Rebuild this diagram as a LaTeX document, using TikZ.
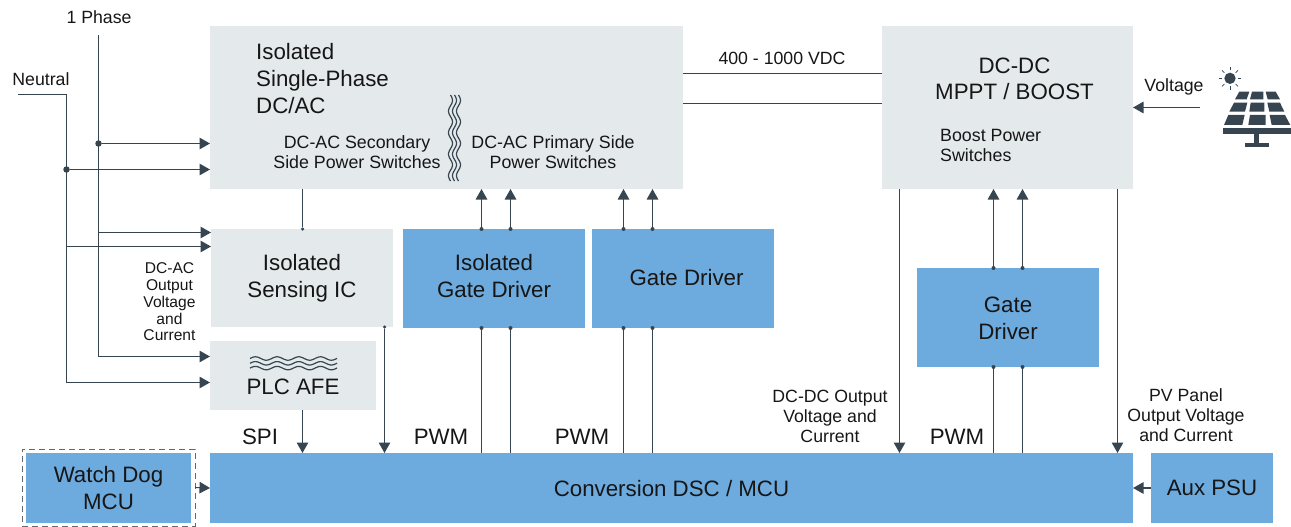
\documentclass[tikz,border=0pt]{standalone}
\usepackage{fontspec}
\setmainfont{Liberation Sans}
\usetikzlibrary{arrows.meta}
\definecolor{graybox}{HTML}{E4E9EC}
\definecolor{bluebox}{HTML}{6DAADD}
\definecolor{wire}{HTML}{36454F}
\definecolor{ink}{HTML}{161616}
\newcommand{\fsz}[2]{\fontsize{#1}{#2}\selectfont}
\tikzset{
  x=1pt,y=-1pt,
  box/.style={inner sep=0pt,outer sep=0pt,anchor=north west,align=center,text=ink},
  gbox/.style={box,fill=graybox},
  bbox/.style={box,fill=bluebox},
  big/.style={font=\fsz{22.3}{27}},
  mid/.style={font=\fsz{17.8}{20}},
  small/.style={font=\fsz{15.6}{16.7}},
  lab/.style={font=\fsz{17.7}{20}},
  lbl/.style={inner sep=0pt,align=center,text=ink},
  wireline/.style={draw=wire,line width=1.1pt},
  arr/.style={wireline,-{Triangle[length=10.5pt,width=11.5pt]}},
  dot/.style={circle,fill=wire,inner sep=0pt,minimum size=#1},
  dot/.default=6.5pt,
}
\begin{document}
\begin{tikzpicture}
\useasboundingbox (0,0) rectangle (1291,527);
% boxes
\node[gbox,minimum width=473pt,minimum height=163pt] (dcac) at (210,26) {};
\node[gbox,big,minimum width=182pt,minimum height=98pt] (sense) at (211,229) {Isolated\\Sensing IC};
\node[gbox,minimum width=166pt,minimum height=69pt] (plc) at (210,341) {};
\node[bbox,minimum width=182pt,minimum height=99pt] (igd) at (403,229) {};
\node[bbox,minimum width=182pt,minimum height=99pt] (gd) at (592,229) {};
\node[gbox,minimum width=251pt,minimum height=163pt] (dcdc) at (882,26) {};
\node[bbox,minimum width=182pt,minimum height=99pt] (gd2) at (917,268) {};
\node[bbox,minimum width=923pt,minimum height=70pt] (dsc) at (210,453) {};
\node[bbox,big,minimum width=122pt,minimum height=70pt] (aux) at (1151,453) {Aux PSU};
\node[bbox,big,minimum width=165pt,minimum height=70pt] (wd) at (26,453) {Watch Dog\\MCU};
\node[box,draw=wire!80!white,line width=0.8pt,dash pattern=on 6pt off 4pt,minimum width=173pt,minimum height=77pt] (wdf) at (22,449) {};
% texts in boxes
\node[lbl,big,anchor=north west,align=left] (t1) at (256,43) {Isolated\\Single-Phase\\DC/AC};
\node[lbl,mid] (t2) at (357,152) {DC-AC Secondary\\Side Power Switches};
\node[lbl,mid] (t3) at (553,152) {DC-AC Primary Side\\Power Switches};
\node[lbl,font=\fsz{22.3}{26}] (t4) at (1014.5,79) {DC-DC\\MPPT / BOOST};
\node[lbl,mid,anchor=north west,align=left] (t5) at (940,129) {Boost Power\\Switches};
\node[lbl,big] (t6) at (293,387) {PLC AFE};
\node[lbl,big] (t7) at (494,276) {Isolated\\Gate Driver};
\node[lbl,big] (t8) at (686.5,278) {Gate Driver};
\node[lbl,big] (t9) at (1008,318.5) {Gate\\Driver};
\node[lbl,big] (t10) at (671.5,489) {Conversion DSC / MCU};
% outer labels
\node[lbl,lab] (l1) at (99,17) {1 Phase};
\node[lbl,lab] (l2) at (41,79) {Neutral};
\node[lbl,small] (l3) at (169.5,302) {DC-AC\\Output\\Voltage\\and\\Current};
\node[lbl,lab] (l4) at (782,58) {400 - 1000 VDC};
\node[lbl,lab] (l5) at (1174,87) {Voltage};
\node[lbl,lab] (l6) at (830,416.5) {DC-DC Output\\Voltage and\\Current};
\node[lbl,lab] (l7) at (1186,415) {PV Panel\\Output Voltage\\and Current};
\node[lbl,big] (s1) at (260,437) {SPI};
\node[lbl,big] (s2) at (441,437) {PWM};
\node[lbl,big] (s3) at (582,437) {PWM};
\node[lbl,big] (s4) at (957,437) {PWM};
% helper coordinates
\coordinate (ph0) at (98.5,35);
\coordinate (ne0) at (18,94.5);
\coordinate (ne1) at (66.5,94.5);
\coordinate (v0) at (1200,107.5);
\coordinate (y1) at (0,143.5);
\coordinate (y2) at (0,169.5);
\coordinate (y3) at (0,232.5);
\coordinate (y4) at (0,246.5);
\coordinate (y5) at (0,356.5);
\coordinate (y6) at (0,382.5);
\coordinate (y7) at (0,73.5);
\coordinate (y8) at (0,103.5);
\coordinate (x1) at (302.5,0);
\coordinate (x2) at (384.5,0);
\foreach \n/\v in {a/481.5,b/510.5,c/623.5,d/652.5,e/993.5,f/1022.5,g/899.5,h/1117.5}{\coordinate (x\n) at (\v,0);}
% phase and neutral
\draw[wireline] (ph0) -- (ph0 |- y5);
\draw[wireline] (ne0) -- (ne1) -- (ne1 |- y6);
\node[dot] (d1) at (ph0 |- y1) {};
\node[dot] (d2) at (ne1 |- y2) {};
\draw[arr] (d1) -- (dcac.west |- y1);
\draw[arr] (d2) -- (dcac.west |- y2);
\draw[arr] (ph0 |- y3) -- (sense.west |- y3);
\draw[arr] (ne1 |- y4) -- (sense.west |- y4);
\draw[arr] (ph0 |- y5) -- (plc.west |- y5);
\draw[arr] (ne1 |- y6) -- (plc.west |- y6);
% vertical links
\node[dot=3.5pt] (d3) at (sense.north -| x1) {};
\draw[wireline] (dcac.south -| x1) -- (d3);
\node[dot=3.5pt] (d4) at (sense.south -| x2) {};
\draw[arr] (d4) -- (dsc.north -| x2);
\draw[arr] (plc.south -| x1) -- (dsc.north -| x1);
\draw[arr] (wdf.east) -- (dsc.west);
\draw[arr] (aux.west) -- (dsc.east);
% gate drivers up to DC/AC
\foreach \c/\b in {xa/igd,xb/igd,xc/gd,xd/gd}{
  \node[dot=4pt] (u\c) at (\b.north -| \c) {};
  \draw[arr] (u\c) -- (dcac.south -| \c);
  \node[dot=4pt] (l\c) at (\b.south -| \c) {};
  \draw[wireline] (l\c) -- (dsc.north -| \c);
}
\foreach \c in {xe,xf}{
  \node[dot=4pt] (u\c) at (gd2.north -| \c) {};
  \draw[arr] (u\c) -- (dcdc.south -| \c);
  \node[dot=4pt] (l\c) at (gd2.south -| \c) {};
  \draw[wireline] (l\c) -- (dsc.north -| \c);
}
\draw[arr] (dcdc.south -| xg) -- (dsc.north -| xg);
\draw[arr] (dcdc.south -| xh) -- (dsc.north -| xh);
% DC bus
\draw[wireline] (dcac.east |- y7) -- (dcdc.west |- y7);
\draw[wireline] (dcac.east |- y8) -- (dcdc.west |- y8);
\draw[arr] (v0) -- (dcdc.east |- v0);
% waves
\foreach \dx in {0,4,8}{
  \draw[wire,line width=1.2pt] plot[domain=0:86,samples=90] ({450.5+\dx+2*sin(\x/21.5*360)},{95+\x});
}
\foreach \dy in {0,4.8,9.6}{
  \draw[wire,line width=1.2pt] plot[domain=0:87,samples=90] ({250+\x},{358.5+\dy+1.7*sin(\x/21.7*360+180)});
}
% solar panel
\begin{scope}[shift={(1100,40)},x=0.3333pt,y=-0.3333pt]
 \fill[wire] (405,178)--(418,155)--(448,155)--(440,178)--cycle;
 \fill[wire] (450,178)--(456,155)--(490,155)--(490,178)--cycle;
 \fill[wire] (497,155)--(527,155)--(540,178)--(503,178)--cycle;
 \fill[wire] (388,215)--(402,188)--(442,188)--(435,215)--cycle;
 \fill[wire] (448,215)--(452,188)--(493,188)--(493,215)--cycle;
 \fill[wire] (502,188)--(540,188)--(553,215)--(508,215)--cycle;
 \fill[wire] (372,255)--(385,225)--(434,225)--(427,255)--cycle;
 \fill[wire] (445,255)--(450,225)--(497,225)--(497,255)--cycle;
 \fill[wire] (509,225)--(555,225)--(571,255)--(515,255)--cycle;
 \fill[wire] (370,264) rectangle (572,281);
 \fill[wire] (463,281) rectangle (478,310);
 \fill[wire] (435,308) rectangle (507,322);
 \fill[wire] (390,115) circle (17);
 \foreach \a in {0,45,...,315}{
   \draw[wire,line width=0.8pt] (390,115) ++(\a:24) -- ++(\a:10);
 }
\end{scope}
\end{tikzpicture}
\end{document}
